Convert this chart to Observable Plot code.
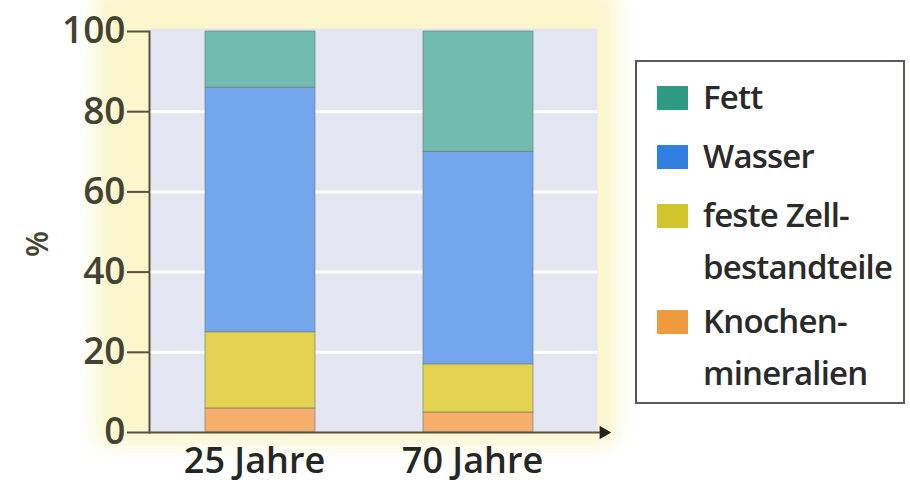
<!DOCTYPE html>
<html>
<head>
<meta charset="utf-8">
<script src="https://cdn.jsdelivr.net/npm/d3@7"></script>
<script src="https://cdn.jsdelivr.net/npm/@observablehq/plot@0.6"></script>
<style>
  html, body { margin: 0; padding: 0; background: #ffffff; }
  #wrap { position: relative; width: 910px; height: 488px; overflow: hidden; background: #ffffff; }
  #glow { position: absolute; left: 96px; top: -10px; width: 520px; height: 455px; background: #fbf6cc; filter: blur(10px); }
  #chart { position: absolute; left: 0; top: 0; }
  #legend { position: absolute; left: 635px; top: 60px; width: 270px; height: 344px; border: 2px solid #5a5a55; box-sizing: border-box; background: #ffffff; font-family: "Open Sans", sans-serif; color: #2a2a2a; }
  .item { position: absolute; left: 66px; font-size: 33px; font-weight: 600; line-height: 52px; white-space: nowrap; letter-spacing: -0.8px; }
  .sw { position: absolute; left: -46px; width: 31px; height: 24px; }
</style>
</head>
<body>
<div id="wrap">
  <div id="glow"></div>
  <div id="chart"></div>
  <div id="legend"></div>
</div>
<script>
// ---- data ----
const categories = ["25 Jahre", "70 Jahre"];
const components = ["Knochenmineralien", "feste Zellbestandteile", "Wasser", "Fett"];
const values25 = [6, 19, 61, 14];
const values70 = [5, 12, 53, 30];
const yTicks = [0, 20, 40, 60, 80, 100];
const barColors = ["#f5ae6c", "#e3d24f", "#74a6ee", "#72bbaf"];
const legendOrder = ["Fett", "Wasser", "feste Zellbestandteile", "Knochenmineralien"];
const legendLines = [["Fett"], ["Wasser"], ["feste Zell-", "bestandteile"], ["Knochen-", "mineralien"]];
const legendColors = ["#2f9a82", "#2f7ee0", "#d3c42b", "#ef9a3c"];

const table = [];
components.forEach((c, i) => {
  table.push({age: categories[0], component: c, value: values25[i]});
  table.push({age: categories[1], component: c, value: values70[i]});
});

const axisColor = "#55533f";

const chart = Plot.plot({
  width: 625,
  height: 488,
  marginLeft: 149,
  marginRight: 28,
  marginTop: 31,
  marginBottom: 56,
  style: {fontFamily: "Open Sans, sans-serif", background: "transparent", overflow: "visible"},
  x: {domain: categories, paddingInner: 0.495, paddingOuter: 0.275, align: 0.467, label: null},
  y: {domain: [0, 100], label: null},
  color: {domain: components, range: barColors},
  marks: [
    Plot.frame({fill: "#e3e5f1", stroke: null, insetTop: -3}),
    Plot.gridY([20, 40, 60, 80], {stroke: "#ffffff", strokeOpacity: 1, strokeWidth: 3}),
    Plot.barY(table, {x: "age", y: "value", fill: "component", order: components, stroke: "#5f6f70", strokeWidth: 1, strokeOpacity: 0.55}),
    Plot.axisY({ticks: yTicks, tickSize: 22, tickPadding: 2, fontSize: 37, fontWeight: 600, letterSpacing: -1, stroke: axisColor, strokeWidth: 2, fill: "#444332", label: null}),
    Plot.axisX({tickSize: 0, tickPadding: 15, fontSize: 36, fontWeight: 600, letterSpacing: -0.6, dx: -6, fill: "#262622", label: null}),
    Plot.frame({anchor: "left", stroke: axisColor, strokeWidth: 2}),
    Plot.ruleY([0], {stroke: axisColor, strokeWidth: 2, insetRight: -6}),
    Plot.dot([0], {y: d => d, frameAnchor: "right", symbol: "triangle", rotate: 90, dx: 6, r: 5, fill: "#222", stroke: null}),
    Plot.text(["%"], {frameAnchor: "left", dx: -111, dy: 25, rotate: -90, fontSize: 30, fontWeight: 600, fill: "#444332"})
  ]
});
document.getElementById("chart").appendChild(chart);

// ---- legend ----
const legend = document.getElementById("legend");
const tops = [9, 68, 127, 233];
legendOrder.forEach((name, i) => {
  const item = document.createElement("div");
  item.className = "item";
  item.style.top = tops[i] + "px";
  const sw = document.createElement("div");
  sw.className = "sw";
  sw.style.top = "15px";
  sw.style.background = legendColors[i];
  item.appendChild(sw);
  item.innerHTML += legendLines[i].join("<br>");
  item.title = name;
  legend.appendChild(item);
});
</script>
</body>
</html>
